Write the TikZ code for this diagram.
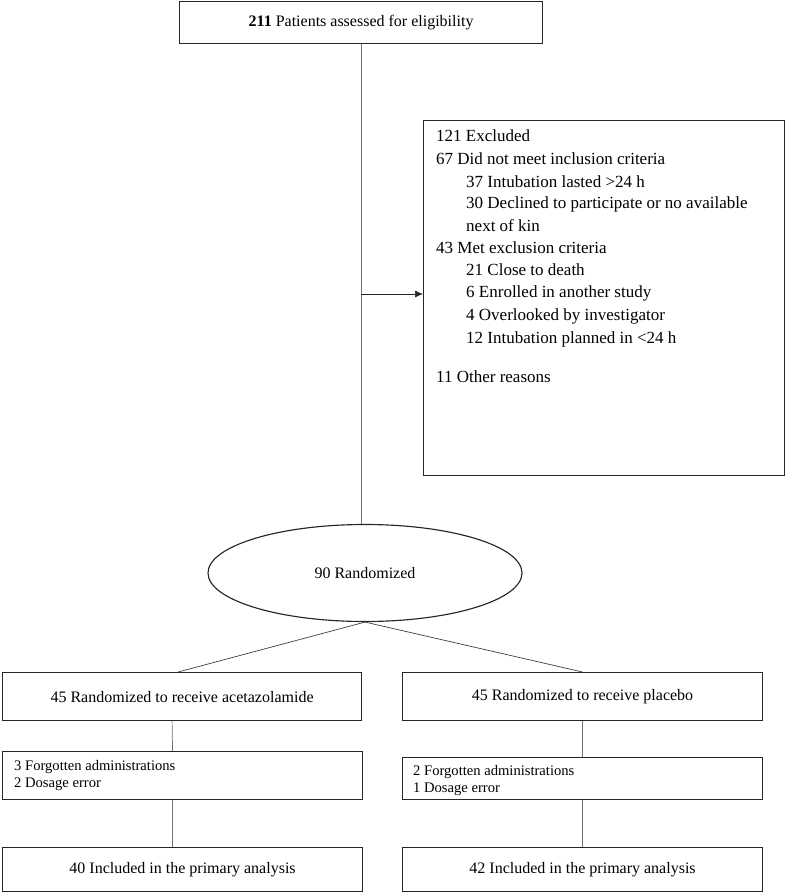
\documentclass[tikz,border=0pt]{standalone}
\usepackage{fontspec}
\setmainfont{Liberation Serif}
\usetikzlibrary{shapes.geometric,arrows.meta}
\tikzset{
	boxed/.style={draw, line width=0.4mm, color=black!85, text=black, inner sep=0pt, anchor=north west, font=\armfont},
	flowline/.style={line width=0.25mm, color=black!55},
	txt/.style={inner sep=0pt, anchor=west, text=black}
}
\newcommand{\bigfont}{\fontsize{17}{22.5}\selectfont}
\newcommand{\armfont}{\fontsize{16}{19}\selectfont}
\newcommand{\midfont}{\fontsize{14.6}{17}\selectfont}

\begin{document}
\begin{tikzpicture}[x=1pt, y=-1pt]
		%%%%% START %%%%%
		\useasboundingbox (0, 0) rectangle (785, 892);
		\bigfont
		
		\node[boxed, minimum width=363pt, minimum height=42pt] (assess) at (179, 1) {\textbf{211} Patients assessed for eligibility};
		
		\node[boxed, minimum width=361pt, minimum height=355pt] (excl) at (423, 120) {};
		\node[txt] (ex1) at (436, 136) {121 Excluded};
		\node[txt] (ex2) at (436, 159) {67 Did not meet inclusion criteria};
		\node[txt] (ex3) at (466, 182) {37 Intubation lasted >24 h};
		\node[txt] (ex4) at (466, 204) {30 Declined to participate or no available};
		\node[txt] (ex5) at (466, 226) {next of kin};
		\node[txt] (ex6) at (436, 248) {43 Met exclusion criteria};
		\node[txt] (ex7) at (466, 270) {21 Close to death};
		\node[txt] (ex8) at (466, 293) {6 Enrolled in another study};
		\node[txt] (ex9) at (466, 316) {4 Overlooked by investigator};
		\node[txt] (ex10) at (466, 339) {12 Intubation planned in <24 h};
		\node[txt] (ex11) at (436, 377) {11 Other reasons};
		
		\node[draw, ellipse, line width=0.4mm, color=black!85, text=black, font=\armfont, minimum width=314pt, minimum height=97pt, inner sep=0pt] (rand) at (365, 573) {90 Randomized};
		
		\node[boxed, minimum width=359pt, minimum height=48pt] (acz) at (2, 672) {45 Randomized to receive acetazolamide};
		\node[boxed, minimum width=360pt, minimum height=48pt] (plc) at (402, 672) {45 Randomized to receive placebo};
		
		\node[boxed, minimum width=360pt, minimum height=48pt] (aczdev) at (2, 751) {};
		\node[font=\midfont, txt, align=left] (aczdevtxt) at (14, 775) {3 Forgotten administrations\\2 Dosage error};
		\node[boxed, minimum width=360pt, minimum height=42pt] (plcdev) at (402, 757) {};
		\node[font=\midfont, txt, align=left] (plcdevtxt) at (413, 780) {2 Forgotten administrations\\1 Dosage error};
		
		\node[boxed, minimum width=360pt, minimum height=44pt] (aczfin) at (2, 847) {40 Included in the primary analysis};
		\node[boxed, minimum width=360pt, minimum height=44pt] (plcfin) at (402, 847) {42 Included in the primary analysis};
		
		% connectors
		\coordinate (split) at (361, 294);
		\draw[flowline, line width=0.3mm] (assess.south) -- (assess.south |- rand.north);
		\draw[flowline, color=black!85, -{Latex[length=8pt,width=7pt]}] (split) -- (split -| excl.west);
		
		\draw[flowline, color=black!75] (rand.south) -- ([xshift=-4pt]acz.north);
		\draw[flowline, color=black!75] (rand.south) -- (plc.north);
		
		\draw[flowline] ([xshift=-10pt]acz.south) -- ([xshift=-10pt]aczdev.north);
		\draw[flowline] ([xshift=-10pt]aczdev.south) -- ([xshift=-10pt]aczfin.north);
		\draw[flowline] (plc.south) -- (plcdev.north);
		\draw[flowline] (plcdev.south) -- (plcfin.north);
		
		%%%%% END %%%%%
	\end{tikzpicture}
\end{document}
